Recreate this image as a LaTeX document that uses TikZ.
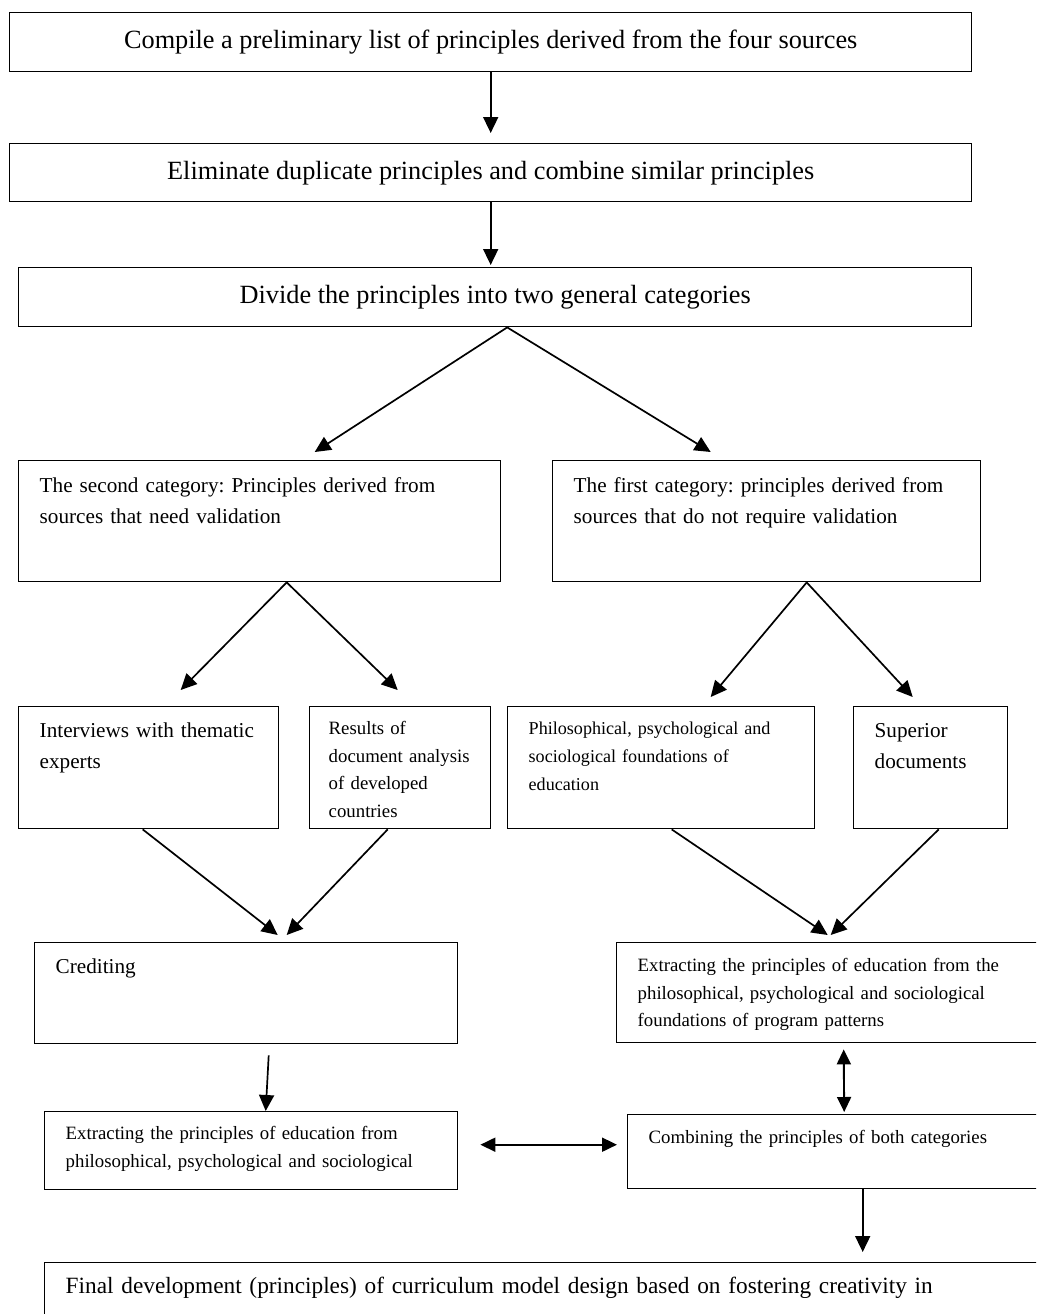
\documentclass[tikz,border=0pt]{standalone}
\usepackage{fontspec}
\setmainfont{Liberation Serif}
\usetikzlibrary{arrows.meta}
\frenchspacing
\hyphenpenalty=10000
\exhyphenpenalty=10000
\newcommand\sizeL{\fontsize{26.3}{30}\selectfont}
\newcommand\sizeM{\fontsize{21.2}{30.5}\selectfont}
\newcommand\sizeS{\fontsize{18.8}{27.6}\selectfont}
\newcommand\sizeT{\fontsize{18.1}{27.8}\selectfont}
\newcommand\sizeF{\fontsize{23.3}{30}\selectfont}
\tikzset{
        wide/.style={draw=black, line width=1.4pt, anchor=north west, inner sep=0pt, font=\sizeL},
        card/.style={draw=black, line width=1.4pt, anchor=north west, align=left, inner xsep=21pt, inner ysep=0pt},
        link/.style={line width=1.7pt, -{Triangle[length=16pt,width=15pt]}},
        dlink/.style={line width=1.9pt, {Triangle[length=15pt,width=14pt]}-{Triangle[length=15pt,width=14pt]}}
          }
\begin{document}
\begin{tikzpicture}[x=1pt, y=-1pt]
            \fill[white] (0,0) rectangle (1036,1314);
            \useasboundingbox (0,0) rectangle (1036,1314);
            \clip (0,0) rectangle (1036,1314);
            % main steps
            \node[wide, minimum width=962pt, minimum height=59pt] (b1) at (9,12) {Compile a preliminary list of principles derived from the four sources};
            \node[wide, minimum width=962pt, minimum height=58pt] (b2) at (9,143) {Eliminate duplicate principles and combine similar principles};
            \node[wide, minimum width=953pt, minimum height=59pt] (b3) at (18,267) {Divide the principles into two general categories};
            % categories
            \node[card, font=\sizeM, text width=440pt, text height=32pt, text depth=89pt] (cat2) at (18,460) {The second category: Principles derived from\\sources that need validation};
            \node[card, font=\sizeM, text width=386pt, text height=32pt, text depth=89pt] (cat1) at (552,460) {The first category: principles derived from\\sources that do not require validation};
            % sources
            \node[card, font=\sizeM, text width=218pt, text height=31pt, text depth=91pt] (inter) at (18,706) {\mbox{Interviews with thematic}\\experts};
            \node[card, font=\sizeS, inner xsep=19pt, text width=143pt, text height=28pt, text depth=94pt] (res) at (309,706) {Results of\\\mbox{document analysis}\\of developed\\countries};
            \node[card, font=\sizeT, text width=265pt, text height=28pt, text depth=94pt] (phil) at (507,706) {Philosophical, psychological and\\sociological foundations of\\education};
            \node[card, font=\sizeM, text width=112pt, text height=31pt, text depth=91pt] (sup) at (853,706) {Superior\\documents};
            % results
            \node[card, font=\sizeM, text width=381pt, text height=31pt, text depth=70pt] (cred) at (34,942) {Crediting};
            \node[card, font=\sizeS, text width=402pt, text height=29pt, text depth=71pt] (extR) at (616,942) {Extracting the principles of education from the\\philosophical, psychological and sociological\\foundations of program patterns};
            \node[card, font=\sizeS, text width=371pt, text height=28pt, text depth=50pt] (extL) at (44,1111) {Extracting the principles of education from\\philosophical, psychological and sociological};
            \node[card, font=\sizeS, text width=391pt, text height=29pt, text depth=45pt] (comb) at (627,1114) {Combining the principles of both categories};
            \node[card, font=\sizeF, text width=974pt, text height=31pt, text depth=49pt] (final) at (44,1262) {Final development (principles) of curriculum model design based on fostering creativity in};
            % connectors
            \draw[link, shorten >=10pt] (b1.south) -- (b1.south |- b2.north);
            \draw[link, shorten >=2pt] (b2.south) -- (b2.south |- b3.north);
            \draw[link] ([xshift=12pt]b3.south) -- ([xshift=55pt,yshift=8pt]cat2.north);
            \draw[link] ([xshift=12pt]b3.south) -- ([xshift=-56pt,yshift=8pt]cat1.north);
            \draw[link] ([xshift=27pt]cat2.south) -- ([xshift=32pt,yshift=16pt]inter.north);
            \draw[link] ([xshift=27pt]cat2.south) -- ([xshift=-2.5pt,yshift=16pt]res.north);
            \draw[link] ([xshift=40pt]cat1.south) -- ([xshift=49.5pt,yshift=9pt]phil.north);
            \draw[link] ([xshift=40pt]cat1.south) -- ([xshift=-18pt,yshift=9pt]sup.north);
            \draw[link] ([xshift=-6pt]inter.south) -- ([xshift=31.5pt,yshift=7pt]cred.north);
            \draw[link] ([xshift=-12.5pt]res.south) -- ([xshift=40.5pt,yshift=7pt]cred.north);
            \draw[link] ([xshift=10.5pt]phil.south) -- ([xshift=-11pt,yshift=7pt]extR.north);
            \draw[link] ([xshift=8pt]sup.south) -- ([xshift=-8pt,yshift=7pt]extR.north);
            \draw[link] ([xshift=22.5pt,yshift=-11pt]cred.south) -- ([xshift=14.5pt]extL.north);
            \draw[dlink] ([xshift=22pt,yshift=6pt]extL.east) -- ([xshift=-10pt,yshift=7pt]comb.west);
            \draw[dlink] ([xshift=5pt,yshift=-6pt]extR.south) -- ([yshift=2pt]comb.north);
            \draw[link, shorten >=10pt] ([xshift=18.5pt]comb.south) -- ([xshift=18.5pt]comb.south |- final.north);
\end{tikzpicture}
\end{document}
